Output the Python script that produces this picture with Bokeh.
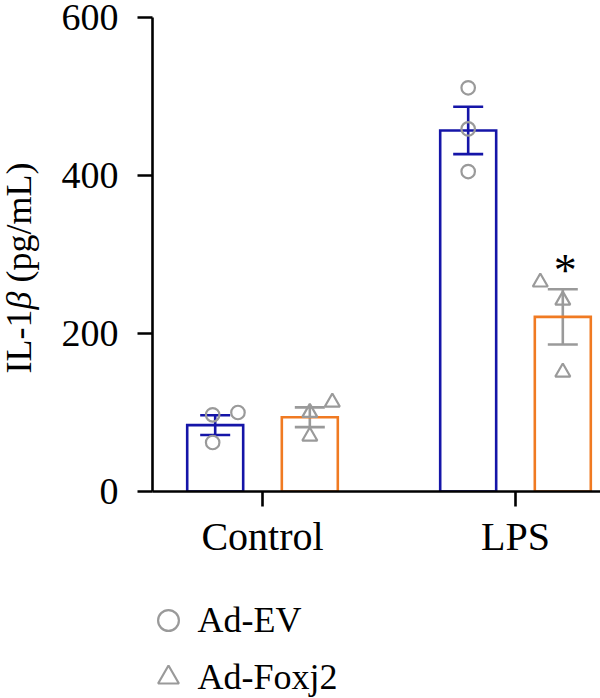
import numpy as np
from bokeh.plotting import figure
from bokeh.layouts import column, row
from bokeh.models import (ColumnDataSource, Range1d, FixedTicker, Whisker, TeeHead,
                          Label, Legend, LegendItem)
from bokeh.core.properties import value
from bokeh.embed import file_html
from bokeh.resources import INLINE

# ---- data -------------------------------------------------------------
groups = ["Control", "LPS"]
series = ["Ad-EV", "Ad-Foxj2"]

ev_mean = [84, 457]
ev_sem = [12.5, 30]
foxj2_mean = [94, 221]
foxj2_sem = [12.5, 35]

# individual replicates (pg/mL)
ev_points = [[97, 100, 62], [511, 459, 405]]
foxj2_points = [[100, 113, 70], [265, 242, 151]]

y_ticks = [0, 200, 400, 600]
significance = ["", "*"]   # Ad-Foxj2 vs Ad-EV within group

# ---- layout / style ---------------------------------------------------
jitter_ev = [[-0.01, 0.09, -0.01], [0.0, 0.0, 0.0]]
jitter_fx = [[0.0, 0.089, 0.0], [-0.089, 0.0, 0.0]]
dodge = 0.187
bar_w = 0.2213
BLUE = "#1515a8"
ORANGE = "#f07a22"
GRAY = "#9a9a9a"
FONT = "Liberation Serif"
TITLE_W = 45        # width of the strip holding the y-axis title
MAIN_H = 575        # height of the chart part (legend strip below)
LEG_H = 698 - MAIN_H

group_x = list(range(len(groups)))

p = figure(width=600 - TITLE_W, height=MAIN_H,
           x_range=Range1d(-0.4348, 1.336), y_range=Range1d(0, 600),
           min_border_left=152 - TITLE_W, min_border_right=0,
           min_border_top=17, min_border_bottom=MAIN_H - 491,
           output_backend="svg", toolbar_location=None)
p.outline_line_color = None
p.xgrid.visible = False
p.ygrid.visible = False

# bars
bars = ColumnDataSource(dict(
    x=[g - dodge for g in group_x] + [g + dodge for g in group_x],
    top=ev_mean + foxj2_mean,
    color=[BLUE] * len(groups) + [ORANGE] * len(groups),
))
p.vbar(x="x", top="top", bottom=0, width=bar_w, source=bars,
       fill_color=None, line_color="color", line_width=2.6, line_join="miter")

# error bars (mean ± SEM)
for means, sems, off, col in [(ev_mean, ev_sem, -dodge, BLUE),
                              (foxj2_mean, foxj2_sem, dodge, GRAY)]:
    src = ColumnDataSource(dict(
        base=[g + off for g in group_x],
        upper=[m + s for m, s in zip(means, sems)],
        lower=[m - s for m, s in zip(means, sems)],
    ))
    w = Whisker(base="base", upper="upper", lower="lower", source=src,
                dimension="height", line_color=col, line_width=2.6,
                upper_head=TeeHead(size=30, line_color=col, line_width=2.6),
                lower_head=TeeHead(size=30, line_color=col, line_width=2.6))
    p.add_layout(w)

# replicate points
def point_source(points, jitter, off):
    xs, ys = [], []
    for g, (vals, jit) in enumerate(zip(points, jitter)):
        for v, j in zip(vals, jit):
            xs.append(g + off + j)
            ys.append(v)
    return ColumnDataSource(dict(x=xs, y=ys))

circle_style = dict(marker="circle", fill_color=None, line_color=GRAY, line_width=2.2)
tri_style = dict(marker="triangle", fill_color=None, line_color=GRAY, line_width=2.2)

p.scatter(x="x", y="y", source=point_source(ev_points, jitter_ev, -dodge),
          size=13.5, **circle_style)
p.scatter(x="x", y="y", source=point_source(foxj2_points, jitter_fx, dodge),
          size=15, **tri_style)

# significance marks above the Ad-Foxj2 error bars
sig = ColumnDataSource(dict(
    x=[g + dodge + 0.01 for g in group_x],
    y=[m + s for m, s in zip(foxj2_mean, foxj2_sem)],
    text=significance,
))
p.text(x="x", y="y", text="text", source=sig, text_font=value(FONT),
       text_font_size="46px", text_align="center", text_baseline="alphabetic",
       y_offset=-19, text_color="black")

# axes
for ax in (p.xaxis[0], p.yaxis[0]):
    ax.axis_line_width = 2.6
    ax.axis_line_color = "black"
    ax.major_tick_line_width = 2.6
    ax.major_tick_line_color = "black"
    ax.major_tick_out = 15
    ax.major_tick_in = 0
    ax.minor_tick_out = 0
    ax.minor_tick_in = 0
    ax.major_label_text_font = FONT
    ax.major_label_text_color = "black"

p.yaxis.ticker = FixedTicker(ticks=y_ticks)
p.yaxis.major_label_text_font_size = "38px"
p.yaxis.major_label_standoff = 19

p.xaxis.ticker = FixedTicker(ticks=group_x)
p.xaxis.major_label_overrides = {g: name for g, name in zip(group_x, groups)}
p.xaxis.major_label_text_font_size = "40px"
p.xaxis.major_label_standoff = 7

# y-axis title strip (italic beta)
tfig = figure(width=TITLE_W, height=MAIN_H, x_range=Range1d(0, 1), y_range=Range1d(0, 1),
              x_axis_type=None, y_axis_type=None, min_border=0,
              min_border_left=0, min_border_right=0, min_border_top=0, min_border_bottom=0,
              output_backend="svg", toolbar_location=None)
tfig.outline_line_color = None
tfig.xgrid.visible = False
tfig.ygrid.visible = False
title_parts = [("IL-1", "normal", 118), ("\u03b2", "italic", 182), (" (pg/mL)", "normal", 209)]
for txt, style, pos in title_parts:
    tfig.add_layout(Label(x=18, y=pos, x_units="screen", y_units="screen",
                          text=txt, angle=np.pi / 2, text_align="left",
                          text_baseline="alphabetic", text_font=FONT,
                          text_font_style=style, text_font_size="36px",
                          text_color="black"))

# legend strip; its keys carry one NaN point so that nothing is plotted
lfig = figure(width=600, height=LEG_H, x_range=Range1d(0, 1), y_range=Range1d(0, 1),
              x_axis_type=None, y_axis_type=None, min_border=0,
              min_border_left=0, min_border_right=0, min_border_top=0, min_border_bottom=0,
              output_backend="svg", toolbar_location=None)
lfig.outline_line_color = None
lfig.xgrid.visible = False
lfig.ygrid.visible = False
nan = float("nan")
key_ev = lfig.scatter(x=[nan], y=[nan], **circle_style)
key_fx = lfig.scatter(x=[nan], y=[nan], **tri_style)
legend = Legend(items=[LegendItem(label=series[0], renderers=[key_ev]),
                       LegendItem(label=series[1], renderers=[key_fx])],
                location=(141.5, -4.5), orientation="vertical",
                glyph_width=52, glyph_height=52, spacing=5,
                label_standoff=4, padding=0, margin=0,
                label_text_font=FONT, label_text_font_size="36px",
                label_text_color="black",
                border_line_color=None, background_fill_alpha=0)
lfig.add_layout(legend)

layout = column(row(tfig, p, spacing=0), lfig, spacing=0)
open("out.html", "w").write(file_html(layout, INLINE))
